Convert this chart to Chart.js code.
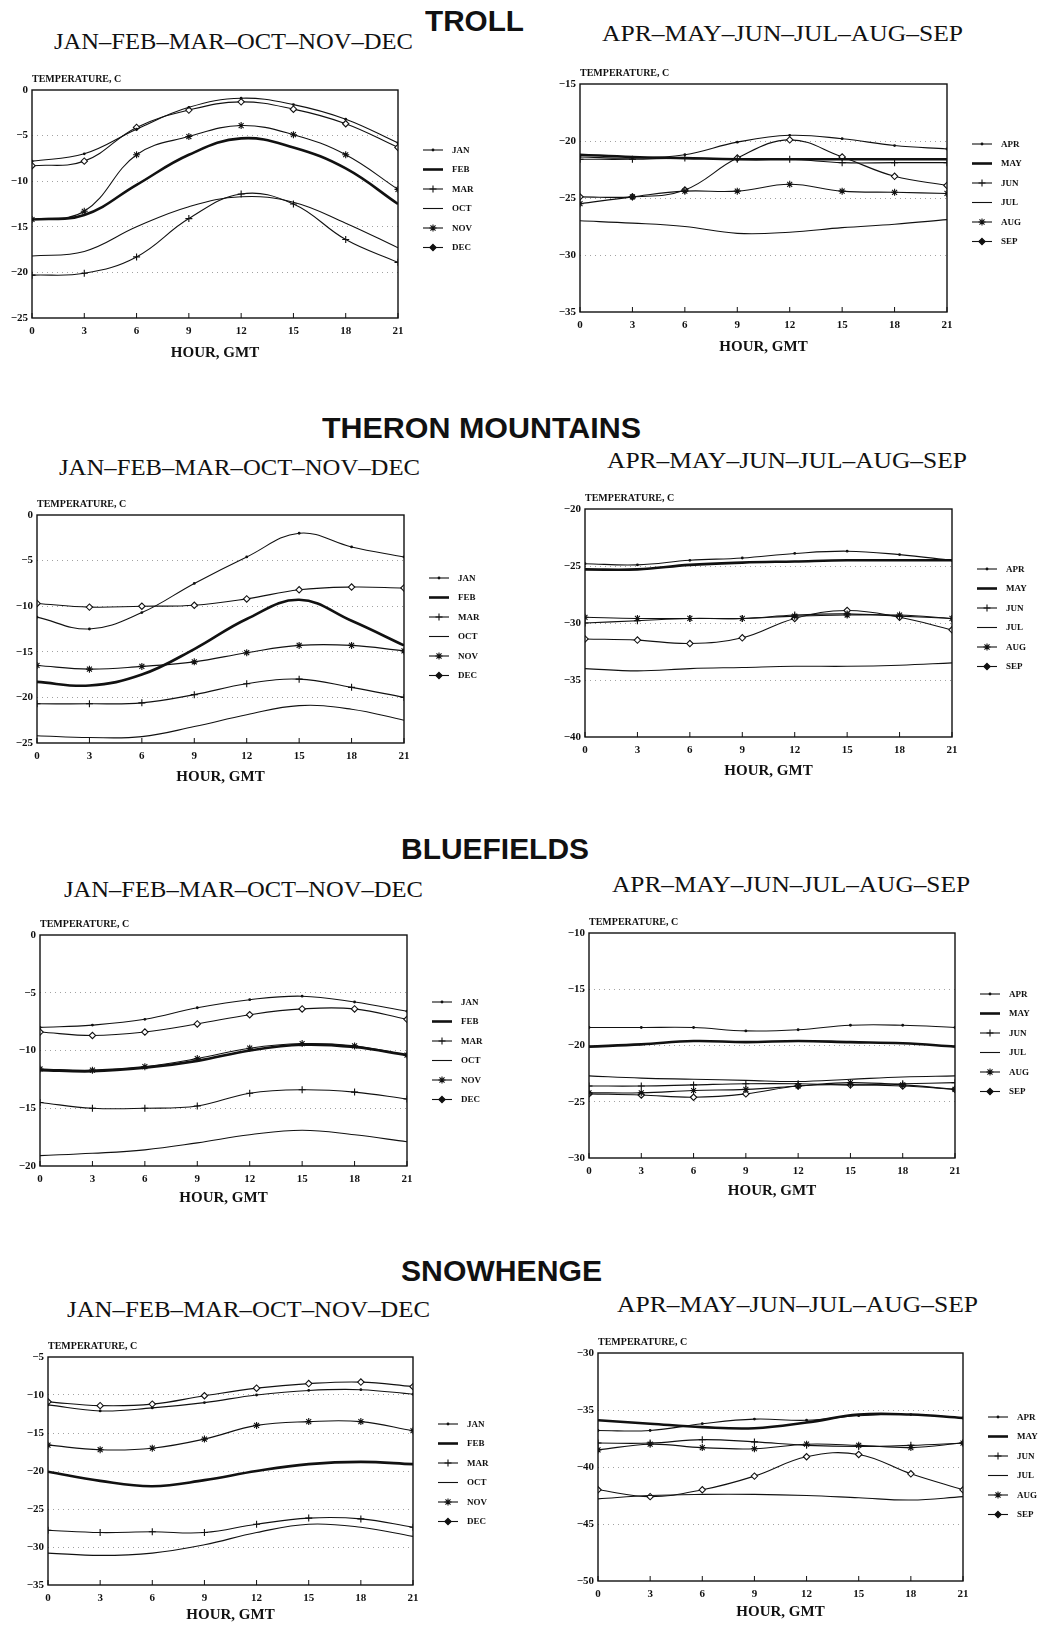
<!DOCTYPE html>
<html>
<head>
<meta charset="utf-8">
<script src="https://cdn.jsdelivr.net/npm/chart.js@4.4.1/dist/chart.umd.min.js"></script>
<style>
body { margin: 0; background: #fff; }
#page { position: relative; width: 1052px; height: 1626px; overflow: hidden; background: #fff; }
canvas { position: absolute; }
.txt { position: absolute; white-space: nowrap; transform-origin: 0 0; color: #111; line-height: 1.2; }
.station { font-family: "Liberation Sans", Arial, sans-serif; font-weight: bold; font-size: 29px; }
.season { font-family: "Liberation Serif", "DejaVu Serif", serif; font-size: 24px; }
</style>
</head>
<body>
<div id="page"></div>
<script>
var HOURS = [0, 3, 6, 9, 12, 15, 18, 21];
var WINTER_MONTHS = ["JAN", "FEB", "MAR", "OCT", "NOV", "DEC"];
var SUMMER_MONTHS = ["APR", "MAY", "JUN", "JUL", "AUG", "SEP"];
var WINTER_TITLE = "JAN\u2013FEB\u2013MAR\u2013OCT\u2013NOV\u2013DEC";
var SUMMER_TITLE = "APR\u2013MAY\u2013JUN\u2013JUL\u2013AUG\u2013SEP";

// TROLL
var trollWinterY = [-25, 0];
var trollJan = [-7.8, -7.0, -4.3, -1.9, -0.9, -1.6, -3.2, -5.8];
var trollFeb = [-14.2, -13.7, -10.4, -7.1, -5.3, -6.3, -8.6, -12.5];
var trollMar = [-20.3, -20.1, -18.3, -14.1, -11.4, -12.5, -16.4, -18.9];
var trollOct = [-18.2, -17.7, -15.0, -12.8, -11.7, -12.3, -14.6, -17.3];
var trollNov = [-14.2, -13.3, -7.1, -5.1, -3.9, -4.9, -7.1, -10.9];
var trollDec = [-8.3, -7.8, -4.1, -2.2, -1.3, -2.1, -3.7, -6.3];

var trollSummerY = [-35, -15];
var trollApr = [-21.4, -21.5, -21.2, -20.1, -19.5, -19.8, -20.4, -20.7];
var trollMay = [-21.2, -21.4, -21.5, -21.6, -21.6, -21.6, -21.6, -21.6];
var trollJun = [-21.6, -21.6, -21.5, -21.6, -21.6, -21.9, -21.9, -21.9];
var trollJul = [-27.0, -27.2, -27.5, -28.1, -28.0, -27.6, -27.3, -26.9];
var trollAug = [-25.5, -24.9, -24.4, -24.4, -23.8, -24.4, -24.5, -24.6];
var trollSep = [-24.9, -24.9, -24.3, -21.5, -19.9, -21.4, -23.1, -23.9];

// THERON MOUNTAINS
var theronWinterY = [-25, 0];
var theronJan = [-11.2, -12.5, -10.7, -7.5, -4.6, -2.0, -3.5, -4.6];
var theronFeb = [-18.3, -18.7, -17.5, -14.7, -11.4, -9.3, -11.6, -14.3];
var theronMar = [-20.7, -20.7, -20.6, -19.7, -18.5, -18.0, -18.9, -20.0];
var theronOct = [-24.2, -24.4, -24.3, -23.2, -21.9, -20.9, -21.3, -22.5];
var theronNov = [-16.5, -16.9, -16.6, -16.1, -15.1, -14.3, -14.3, -14.9];
var theronDec = [-9.7, -10.1, -10.0, -9.9, -9.2, -8.2, -7.9, -8.0];

var theronSummerY = [-40, -20];
var theronApr = [-24.8, -24.9, -24.5, -24.3, -23.9, -23.7, -24.0, -24.5];
var theronMay = [-25.3, -25.3, -24.9, -24.7, -24.6, -24.5, -24.5, -24.5];
var theronJun = [-30.0, -29.8, -29.6, -29.6, -29.3, -29.2, -29.4, -29.6];
var theronJul = [-34.0, -34.2, -34.0, -33.9, -33.8, -33.8, -33.7, -33.5];
var theronAug = [-29.5, -29.6, -29.6, -29.6, -29.4, -29.3, -29.3, -29.6];
var theronSep = [-31.4, -31.5, -31.8, -31.3, -29.6, -28.9, -29.5, -30.6];

// BLUEFIELDS
var blueWinterY = [-20, 0];
var blueJan = [-8.0, -7.8, -7.3, -6.3, -5.6, -5.3, -5.8, -6.6];
var blueFeb = [-11.7, -11.8, -11.5, -10.9, -10.0, -9.5, -9.7, -10.4];
var blueMar = [-14.5, -15.0, -15.0, -14.8, -13.7, -13.4, -13.6, -14.2];
var blueOct = [-19.1, -18.9, -18.6, -18.0, -17.3, -16.9, -17.3, -17.9];
var blueNov = [-11.6, -11.7, -11.4, -10.7, -9.8, -9.4, -9.6, -10.4];
var blueDec = [-8.4, -8.7, -8.4, -7.7, -6.9, -6.4, -6.4, -7.3];

var blueSummerY = [-30, -10];
var blueApr = [-18.4, -18.4, -18.4, -18.7, -18.6, -18.2, -18.2, -18.4];
var blueMay = [-20.1, -19.9, -19.6, -19.7, -19.6, -19.7, -19.8, -20.1];
var blueJun = [-23.6, -23.6, -23.5, -23.4, -23.4, -23.5, -23.4, -23.3];
var blueJul = [-22.7, -22.9, -23.0, -23.1, -23.2, -23.0, -22.8, -22.7];
var blueAug = [-24.2, -24.2, -24.0, -23.9, -23.6, -23.3, -23.5, -23.9];
var blueSep = [-24.3, -24.4, -24.6, -24.3, -23.6, -23.5, -23.6, -23.9];

// SNOWHENGE
var snowWinterY = [-35, -5];
var snowJan = [-11.3, -12.1, -11.7, -11.0, -10.0, -9.4, -9.3, -9.9];
var snowFeb = [-20.1, -21.3, -22.0, -21.2, -20.0, -19.1, -18.8, -19.1];
var snowMar = [-27.8, -28.1, -28.0, -28.1, -27.0, -26.2, -26.3, -27.4];
var snowOct = [-30.8, -31.1, -30.8, -29.7, -28.1, -27.0, -27.4, -28.6];
var snowNov = [-16.6, -17.2, -17.0, -15.8, -14.0, -13.5, -13.5, -14.7];
var snowDec = [-10.9, -11.4, -11.2, -10.1, -9.1, -8.5, -8.3, -8.9];

var snowSummerY = [-50, -30];
var snowApr = [-36.8, -36.8, -36.2, -35.8, -35.9, -35.5, -35.4, -35.7];
var snowMay = [-35.9, -36.2, -36.5, -36.6, -36.1, -35.4, -35.4, -35.7];
var snowJun = [-37.9, -37.9, -37.6, -37.8, -38.1, -38.2, -38.1, -37.9];
var snowJul = [-42.8, -42.5, -42.4, -42.4, -42.5, -42.7, -42.9, -42.6];
var snowAug = [-38.5, -38.0, -38.3, -38.4, -38.0, -38.1, -38.3, -37.9];
var snowSep = [-42.0, -42.6, -42.0, -40.8, -39.1, -38.9, -40.6, -42.0];

var SERIF = '"Liberation Serif", "DejaVu Serif", serif';

// line look for the 6 months of each panel, in legend order
var looks = [
  {w: 1.1, mark: "dot", r: 1.4},
  {w: 2.6, mark: null, r: 0},
  {w: 1.1, mark: "cross", r: 3.5},
  {w: 1.1, mark: null, r: 0},
  {w: 1.1, mark: "star", r: 3.5},
  {w: 1.1, mark: "diamond", r: 3.2}
];

var panels = [
  {names: WINTER_MONTHS, y: trollWinterY, series: [trollJan, trollFeb, trollMar, trollOct, trollNov, trollDec], box: [32, 90, 398, 318], leg: 60, xh: 44},
  {names: SUMMER_MONTHS, y: trollSummerY, series: [trollApr, trollMay, trollJun, trollJul, trollAug, trollSep], box: [580, 84, 947, 312], leg: 60, xh: 44},
  {names: WINTER_MONTHS, y: theronWinterY, series: [theronJan, theronFeb, theronMar, theronOct, theronNov, theronDec], box: [37, 515, 404, 743], leg: 63, xh: 43},
  {names: SUMMER_MONTHS, y: theronSummerY, series: [theronApr, theronMay, theronJun, theronJul, theronAug, theronSep], box: [585, 509, 952, 737], leg: 60, xh: 43},
  {names: WINTER_MONTHS, y: blueWinterY, series: [blueJan, blueFeb, blueMar, blueOct, blueNov, blueDec], box: [40, 935, 407, 1166], leg: 67, xh: 41},
  {names: SUMMER_MONTHS, y: blueSummerY, series: [blueApr, blueMay, blueJun, blueJul, blueAug, blueSep], box: [589, 933, 955, 1158], leg: 61, xh: 42},
  {names: WINTER_MONTHS, y: snowWinterY, series: [snowJan, snowFeb, snowMar, snowOct, snowNov, snowDec], box: [48, 1357, 413, 1585], leg: 67, xh: 39},
  {names: SUMMER_MONTHS, y: snowSummerY, series: [snowApr, snowMay, snowJun, snowJul, snowAug, snowSep], box: [598, 1353, 963, 1581], leg: 64, xh: 40}
];

var texts = [
  ["TROLL", "station", 425, 524, 21],
  [WINTER_TITLE, "season", 54, 413, 41],
  [SUMMER_TITLE, "season", 602, 963, 33],
  ["THERON MOUNTAINS", "station", 322, 641, 428],
  [WINTER_TITLE, "season", 59, 420, 467],
  [SUMMER_TITLE, "season", 607, 967, 460],
  ["BLUEFIELDS", "station", 401, 589, 849],
  [WINTER_TITLE, "season", 64, 423, 889],
  [SUMMER_TITLE, "season", 612, 970, 884],
  ["SNOWHENGE", "station", 401, 602, 1271],
  [WINTER_TITLE, "season", 67, 430, 1309],
  [SUMMER_TITLE, "season", 617, 978, 1304]
];

var page = document.getElementById("page");

texts.forEach(function(t) {
  var el = document.createElement("div");
  el.className = "txt " + t[1];
  el.textContent = t[0];
  page.appendChild(el);
  var fs = parseFloat(getComputedStyle(el).fontSize);
  el.style.left = t[2] + "px";
  el.style.top = (t[4] - fs * 0.58) + "px";
  var w = el.getBoundingClientRect().width;
  el.style.transform = "scaleX(" + ((t[3] - t[2]) / w) + ")";
});

function drawMark(ctx, mark, x, y, r, solid) {
  ctx.beginPath();
  if (mark === "dot") {
    ctx.arc(x, y, r, 0, Math.PI * 2);
    ctx.fillStyle = "#111"; ctx.fill();
  } else if (mark === "cross") {
    ctx.moveTo(x - r, y); ctx.lineTo(x + r, y);
    ctx.moveTo(x, y - r); ctx.lineTo(x, y + r); ctx.stroke();
  } else if (mark === "star") {
    var d = r * 0.72;
    ctx.moveTo(x - r, y); ctx.lineTo(x + r, y);
    ctx.moveTo(x, y - r); ctx.lineTo(x, y + r);
    ctx.moveTo(x - d, y - d); ctx.lineTo(x + d, y + d);
    ctx.moveTo(x - d, y + d); ctx.lineTo(x + d, y - d); ctx.stroke();
  } else if (mark === "diamond") {
    ctx.moveTo(x, y - r); ctx.lineTo(x + r, y); ctx.lineTo(x, y + r); ctx.lineTo(x - r, y);
    ctx.closePath();
    ctx.fillStyle = solid ? "#111" : "#fff";
    ctx.fill(); ctx.stroke();
  }
}

// frame, little hour ticks, temperature label and the legend
var decor = {
  id: "decor",
  afterDraw: function(chart, args, opts) {
    var ctx = chart.ctx, a = chart.chartArea, xs = chart.scales.x;
    ctx.save();
    ctx.strokeStyle = "#111";
    ctx.lineWidth = 1.4;
    ctx.strokeRect(a.left, a.top, a.right - a.left, a.bottom - a.top);
    ctx.lineWidth = 1;
    HOURS.forEach(function(h) {
      var px = xs.getPixelForValue(h);
      ctx.beginPath(); ctx.moveTo(px, a.bottom); ctx.lineTo(px, a.bottom - 5); ctx.stroke();
    });
    ctx.fillStyle = "#111";
    ctx.font = "bold 10px " + SERIF;
    ctx.textBaseline = "middle";
    ctx.textAlign = "left";
    ctx.fillText("TEMPERATURE, C", a.left, a.top - 11);

    ctx.font = "bold 9px " + SERIF;
    chart.data.datasets.forEach(function(ds, i) {
      var lk = looks[i];
      var y = a.top + opts.top + i * 19.5;
      ctx.strokeStyle = "#111";
      ctx.lineWidth = lk.w;
      ctx.beginPath(); ctx.moveTo(a.right + 25, y); ctx.lineTo(a.right + 45, y); ctx.stroke();
      ctx.lineWidth = 1.1;
      if (lk.mark) drawMark(ctx, lk.mark, a.right + 35, y, lk.r, true);
      ctx.fillStyle = "#111";
      ctx.fillText(ds.label, a.right + 54, y + 0.5);
    });
    ctx.restore();
  }
};

// points drawn by chart.js
var pointLooks = {
  dot: "circle",
  cross: "cross",
  star: "star",
  diamond: "rectRot"
};

panels.forEach(function(p) {
  var l = p.box[0], t = p.box[1], r = p.box[2], b = p.box[3];
  var padTop = 24, yw = 40, xh = p.xh, padRight = 88;
  var cv = document.createElement("canvas");
  cv.width = yw + (r - l) + padRight;
  cv.height = padTop + (b - t) + xh;
  cv.style.left = (l - yw) + "px";
  cv.style.top = (t - padTop) + "px";
  page.appendChild(cv);

  var datasets = p.series.map(function(vals, i) {
    var lk = looks[i];
    return {
      label: p.names[i],
      data: HOURS.map(function(h, k) { return {x: h, y: vals[k]}; }),
      borderColor: "#111",
      borderWidth: lk.w,
      tension: 0.4,
      pointRadius: lk.mark ? lk.r : 0,
      pointStyle: lk.mark ? pointLooks[lk.mark] : "circle",
      pointBorderColor: "#111",
      pointBorderWidth: lk.mark === "dot" ? 0 : 1.1,
      pointBackgroundColor: lk.mark === "diamond" ? "#fff" : "#111",
      fill: false
    };
  });

  var yMin = p.y[0], yMax = p.y[1];
  new Chart(cv, {
    type: "line",
    data: {datasets: datasets},
    plugins: [decor],
    options: {
      responsive: false,
      animation: false,
      events: [],
      layout: {padding: {top: padTop, right: padRight, left: 0, bottom: 0}},
      plugins: {legend: {display: false}, tooltip: {enabled: false}, decor: {top: p.leg}},
      scales: {
        x: {
          type: "linear", min: 0, max: 21,
          afterFit: function(s) { s.height = xh; },
          grid: {display: false, drawTicks: false},
          border: {display: false},
          ticks: {stepSize: 3, padding: 7, color: "#111", font: {family: SERIF, size: 11, weight: "bold"}},
          title: {display: true, text: "HOUR, GMT", color: "#111", padding: 0, font: {family: SERIF, size: 15, weight: "bold"}}
        },
        y: {
          min: yMin, max: yMax,
          afterFit: function(s) { s.width = yw; },
          grid: {
            drawTicks: false, lineWidth: 0.8,
            color: function(c) { return (c.tick && (c.tick.value === yMin || c.tick.value === yMax)) ? "rgba(0,0,0,0)" : "#8a8a8a"; }
          },
          border: {display: false, dash: [1, 4]},
          ticks: {
            stepSize: 5, padding: 4, color: "#111", font: {family: SERIF, size: 11, weight: "bold"},
            callback: function(v) { return v < 0 ? "\u2212" + Math.abs(v) : String(v); }
          }
        }
      }
    }
  });
});
</script>
</body>
</html>
